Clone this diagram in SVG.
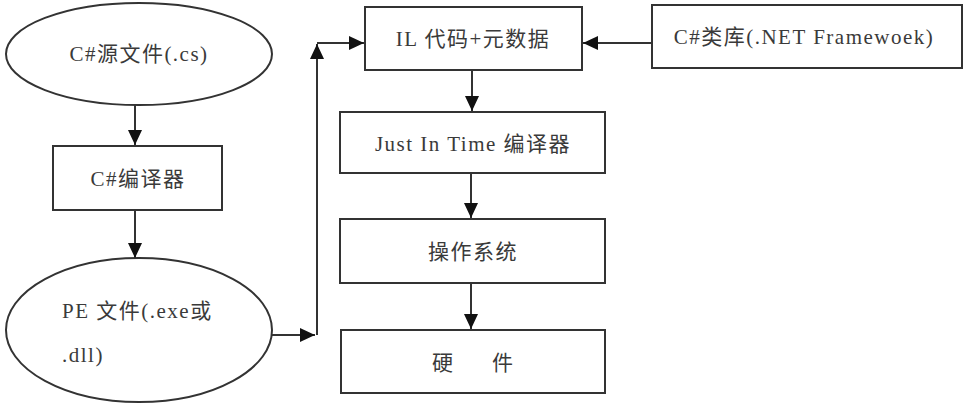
<svg xmlns="http://www.w3.org/2000/svg" width="966" height="404" viewBox="0 0 966 404">
<defs>
<marker id="ah" markerUnits="userSpaceOnUse" markerWidth="16" markerHeight="16" viewBox="0 0 16 16" refX="15" refY="8" orient="auto">
<path d="M0,1 L15,8 L0,15 Z" fill="#111"/>
</marker>
</defs>
<style>
.shape{fill:#fff;stroke:#333;stroke-width:2}
.t{font-family:"Liberation Serif","Noto Sans CJK SC",serif;font-size:21px;letter-spacing:1.5px;fill:#3a3a3a;text-anchor:middle}
.c{fill:none;stroke:#333;stroke-width:2;marker-end:url(#ah)}
</style>
<rect width="966" height="404" fill="#fff"/>
<g id="src">
<ellipse class="shape" cx="139" cy="54" rx="133" ry="51"/>
<text class="t" x="139" y="61">C#源文件(.cs)</text>
</g>
<g id="csc">
<rect class="shape" x="53" y="146" width="169" height="64"/>
<text class="t" x="138" y="186">C#编译器</text>
</g>
<g id="pe">
<ellipse class="shape" cx="139" cy="330" rx="133" ry="72"/>
<text class="t" x="62" y="318" style="text-anchor:start">PE  文件(.exe或</text>
<text class="t" x="62" y="362" style="text-anchor:start">.dll)</text>
</g>
<g id="il">
<rect class="shape" x="365" y="7" width="217" height="63"/>
<text class="t" x="473" y="46">IL 代码+元数据</text>
</g>
<g id="lib">
<rect class="shape" x="652" y="5" width="310" height="63"/>
<text class="t" x="804" y="44">C#类库(.NET Framewoek)</text>
</g>
<g id="jit">
<rect class="shape" x="340" y="112" width="265" height="61"/>
<text class="t" x="473" y="151">Just In Time 编译器</text>
</g>
<g id="os">
<rect class="shape" x="340" y="219" width="265" height="64"/>
<text class="t" x="473" y="259">操作系统</text>
</g>
<g id="hw">
<rect class="shape" x="341" y="330" width="264" height="63"/>
<text class="t" x="432" y="370" style="text-anchor:start;letter-spacing:39px">硬件</text>
</g>
<g id="connectors">
<line class="c" x1="135" y1="105" x2="135" y2="145"/>
<line class="c" x1="135" y1="210" x2="135" y2="258"/>
<line class="c" x1="272" y1="335" x2="315" y2="335"/>
<line class="c" x1="317" y1="335" x2="317" y2="44"/>
<line class="c" x1="317" y1="43" x2="364" y2="43"/>
<line class="c" x1="652" y1="43" x2="583" y2="43"/>
<line class="c" x1="472" y1="70" x2="472" y2="111"/>
<line class="c" x1="471" y1="173" x2="471" y2="218"/>
<line class="c" x1="471" y1="283" x2="471" y2="329"/>
</g>
</svg>
